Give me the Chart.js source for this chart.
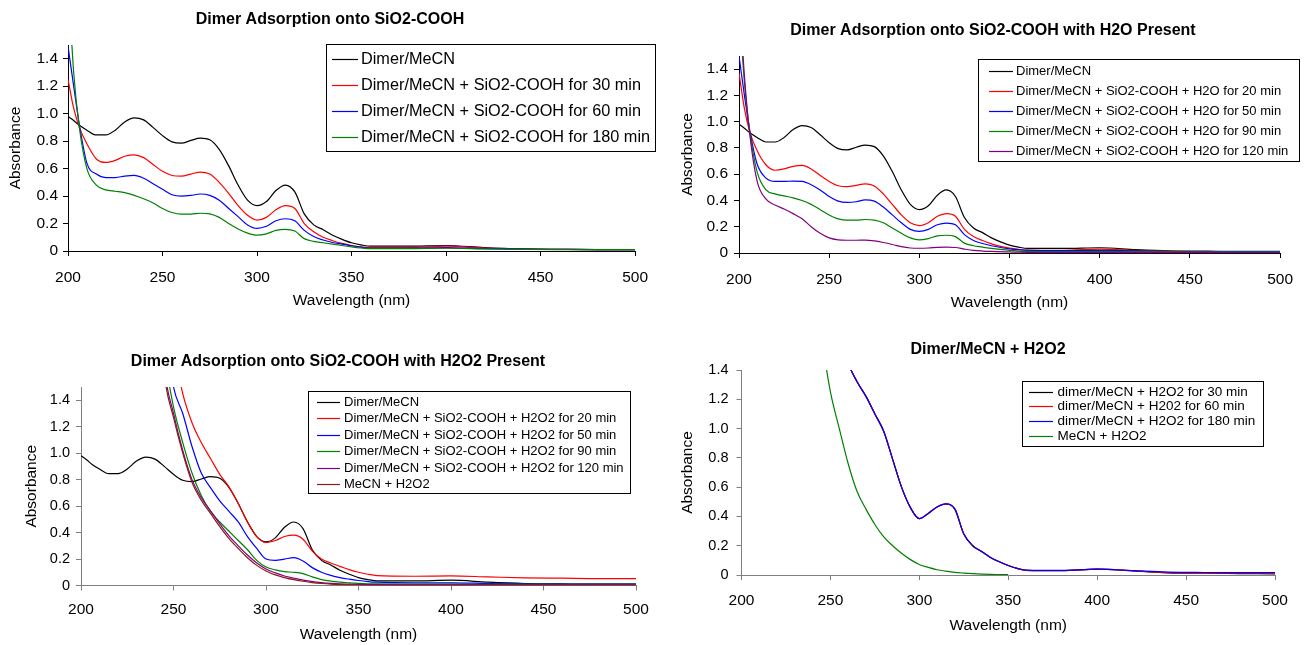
<!DOCTYPE html>
<html>
<head>
<meta charset="utf-8">
<title>Dimer adsorption UV-Vis spectra</title>
<script src="https://cdn.jsdelivr.net/npm/chart.js@4.4.1/dist/chart.umd.min.js"></script>
<style>
  body { margin: 0; background: #fff; }
  #page { position: relative; width: 1305px; height: 645px; overflow: hidden; background: #fff; }
  #page canvas { position: absolute; }
</style>
</head>
<body>
<div id="page"></div>
<script>
// shared wavelength grid (nm)
const wavelength = [200, 203, 206, 210, 215, 220, 225, 230, 235, 240, 245, 250, 255, 260, 265, 270, 275, 280, 285, 290,
  295, 300, 305, 310, 315, 320, 325, 330, 335, 340, 345, 350, 355, 360, 380, 400, 420, 440, 460, 480, 500];

// Dimer/MeCN reference spectrum (panels 1-3)
const dimerMeCN = [0.98, 0.95, 0.915, 0.88, 0.845, 0.845, 0.88, 0.94, 0.97, 0.955, 0.90, 0.84, 0.795, 0.785, 0.805, 0.822, 0.81, 0.74, 0.62, 0.48,
  0.37, 0.33, 0.36, 0.44, 0.48, 0.43, 0.27, 0.19, 0.155, 0.115, 0.085, 0.06, 0.045, 0.035, 0.035, 0.04, 0.025, 0.015, 0.012, 0.01, 0.01];

// panel 1: SiO2-COOH
const cooh30 = [1.25, 1.04, 0.9, 0.78, 0.67, 0.645, 0.66, 0.69, 0.70, 0.68, 0.63, 0.58, 0.55, 0.545, 0.56, 0.575, 0.56, 0.50, 0.42, 0.33,
  0.26, 0.225, 0.245, 0.30, 0.33, 0.31, 0.20, 0.14, 0.10, 0.075, 0.055, 0.04, 0.03, 0.025, 0.025, 0.035, 0.022, 0.015, 0.012, 0.01, 0.01];
const cooh60 = [1.49, 1.2, 0.92, 0.64, 0.56, 0.535, 0.535, 0.545, 0.55, 0.53, 0.49, 0.45, 0.41, 0.40, 0.405, 0.415, 0.405, 0.37, 0.31, 0.25,
  0.19, 0.165, 0.18, 0.22, 0.235, 0.22, 0.15, 0.105, 0.08, 0.062, 0.05, 0.038, 0.028, 0.02, 0.02, 0.025, 0.018, 0.014, 0.012, 0.01, 0.01];
const cooh180 = [2.0, 1.3, 0.9, 0.6, 0.48, 0.445, 0.435, 0.425, 0.405, 0.38, 0.35, 0.31, 0.28, 0.268, 0.268, 0.275, 0.27, 0.245, 0.20, 0.16,
  0.13, 0.115, 0.125, 0.15, 0.158, 0.145, 0.09, 0.07, 0.06, 0.05, 0.04, 0.03, 0.022, 0.017, 0.017, 0.02, 0.015, 0.012, 0.01, 0.01, 0.01];

// panel 2: SiO2-COOH + H2O
const water20 = [1.37, 1.1, 0.92, 0.78, 0.67, 0.63, 0.64, 0.66, 0.667, 0.64, 0.59, 0.545, 0.512, 0.505, 0.515, 0.527, 0.51, 0.45, 0.37, 0.29,
  0.23, 0.208, 0.23, 0.28, 0.30, 0.28, 0.18, 0.125, 0.095, 0.07, 0.05, 0.037, 0.028, 0.022, 0.02, 0.03, 0.02, 0.014, 0.012, 0.01, 0.01];
const water50 = [1.5, 1.2, 0.93, 0.68, 0.57, 0.545, 0.545, 0.548, 0.545, 0.52, 0.48, 0.43, 0.395, 0.385, 0.39, 0.405, 0.395, 0.35, 0.29, 0.23,
  0.18, 0.165, 0.18, 0.215, 0.228, 0.215, 0.14, 0.095, 0.072, 0.055, 0.042, 0.032, 0.025, 0.02, 0.018, 0.02, 0.016, 0.013, 0.012, 0.012, 0.012];
const water90 = [1.9, 1.3, 0.92, 0.62, 0.48, 0.45, 0.435, 0.42, 0.40, 0.37, 0.33, 0.29, 0.26, 0.25, 0.25, 0.255, 0.25, 0.23, 0.19, 0.15,
  0.115, 0.10, 0.11, 0.13, 0.135, 0.125, 0.075, 0.055, 0.045, 0.035, 0.027, 0.02, 0.015, 0.012, 0.01, 0.012, 0.01, 0.01, 0.008, 0.008, 0.008];
const water120 = [2.0, 1.35, 0.9, 0.55, 0.41, 0.365, 0.335, 0.30, 0.26, 0.20, 0.15, 0.115, 0.10, 0.097, 0.097, 0.098, 0.092, 0.08, 0.065, 0.048,
  0.038, 0.036, 0.038, 0.043, 0.045, 0.042, 0.03, 0.02, 0.015, 0.012, 0.01, 0.008, 0.006, 0.005, 0.005, 0.005, 0.005, 0.005, 0.005, 0.005, 0.005];

// panel 3: SiO2-COOH + H2O2 (null = off scale / not read)
const peroxide20 = [null, null, null, null, null, null, null, null, null, null,
  2.2, 1.8, 1.45, 1.23, 1.08, 0.96, 0.84, 0.745, 0.62, 0.48, 0.37, 0.325, 0.34, 0.37, 0.38, 0.35, 0.26, 0.2, 0.17, 0.145,
  0.12, 0.1, 0.085, 0.075, 0.07, 0.072, 0.065, 0.058, 0.055, 0.052, 0.052];
const peroxide50 = [null, null, null, null, null, null, null, null, null, null,
  2.0, 1.5, 1.3, 1.05, 0.85, 0.74, 0.64, 0.56, 0.48, 0.37, 0.28, 0.2, 0.19, 0.2, 0.21, 0.185, 0.135, 0.1, 0.077, 0.06,
  0.048, 0.038, 0.03, 0.025, 0.02, 0.02, 0.015, 0.012, 0.01, 0.01, 0.01];
const peroxide90 = [null, null, null, null, null, null, null, null, null,
  2.3, 1.75, 1.35, 1.08, 0.85, 0.68, 0.56, 0.48, 0.41, 0.34, 0.27, 0.19, 0.14, 0.118, 0.105, 0.1, 0.09, 0.065, 0.045, 0.033, 0.025,
  0.02, 0.016, 0.013, 0.012, 0.01, 0.01, 0.008, 0.008, 0.008, 0.008, 0.008];
const peroxide120 = [null, null, null, null, null, null, null, null, null,
  2.6, 1.65, 1.3, 1.02, 0.8, 0.665, 0.565, 0.465, 0.375, 0.3, 0.23, 0.17, 0.125, 0.095, 0.072, 0.055, 0.04, 0.03, 0.022, 0.016, 0.012,
  0.01, 0.008, 0.007, 0.006, 0.005, 0.005, 0.005, 0.005, 0.005, 0.005, 0.005];
const mecnPeroxide3 = [null, null, null, null, null, null, null, null, null,
  2.5, 1.6, 1.27, 1.0, 0.78, 0.645, 0.545, 0.445, 0.355, 0.28, 0.21, 0.152, 0.11, 0.08, 0.06, 0.044, 0.032, 0.022, 0.015, 0.01, 0.007,
  0.005, 0.004, 0.003, 0.003, 0.003, 0.003, 0.003, 0.003, 0.003, 0.003, 0.003];

// panel 4: Dimer/MeCN + H2O2
const h2o2at30 = [null, null, null, null, null, null, null, null, null, null, null,
  2.0, 1.7, 1.45, 1.32, 1.22, 1.1, 0.98, 0.79, 0.6, 0.46, 0.385, 0.42, 0.465, 0.485, 0.45, 0.28, 0.2, 0.16, 0.12,
  0.09, 0.065, 0.045, 0.032, 0.03, 0.04, 0.028, 0.015, 0.012, 0.01, 0.008];
const h2o2at60 = [null, null, null, null, null, null, null, null, null, null, null,
  2.0, 1.7, 1.45, 1.32, 1.22, 1.1, 0.98, 0.79, 0.6, 0.46, 0.384, 0.42, 0.466, 0.486, 0.45, 0.28, 0.2, 0.16, 0.12,
  0.09, 0.065, 0.045, 0.032, 0.03, 0.04, 0.029, 0.016, 0.013, 0.013, 0.012];
const h2o2at180 = [null, null, null, null, null, null, null, null, null, null, null,
  2.0, 1.7, 1.45, 1.32, 1.22, 1.1, 0.98, 0.79, 0.6, 0.46, 0.385, 0.42, 0.465, 0.486, 0.45, 0.28, 0.2, 0.16, 0.12,
  0.09, 0.065, 0.045, 0.033, 0.031, 0.04, 0.03, 0.02, 0.017, 0.016, 0.017];
const mecnPeroxide4 = [null, null, null, null, null, null, null, null, null, null,
  1.62, 1.25, 1.0, 0.76, 0.57, 0.45, 0.345, 0.26, 0.2, 0.148, 0.105, 0.072, 0.052, 0.036, 0.026, 0.018, 0.013, 0.009, 0.006, 0.004,
  0.003, 0.002, null, null, null, null, null, null, null, null, null];

const labels1 = ['Dimer/MeCN', 'Dimer/MeCN + SiO2-COOH for 30 min', 'Dimer/MeCN + SiO2-COOH for 60 min',
  'Dimer/MeCN + SiO2-COOH for 180 min'];
const labels2 = ['Dimer/MeCN', 'Dimer/MeCN + SiO2-COOH + H2O for 20 min', 'Dimer/MeCN + SiO2-COOH + H2O for 50 min',
  'Dimer/MeCN + SiO2-COOH + H2O for 90 min', 'Dimer/MeCN + SiO2-COOH + H2O for 120 min'];
const labels3 = ['Dimer/MeCN', 'Dimer/MeCN + SiO2-COOH + H2O2 for 20 min', 'Dimer/MeCN + SiO2-COOH + H2O2 for 50 min',
  'Dimer/MeCN + SiO2-COOH + H2O2 for 90 min', 'Dimer/MeCN + SiO2-COOH + H2O2 for 120 min', 'MeCN + H2O2'];
const labels4 = ['dimer/MeCN + H2O2 for 30 min', 'dimer/MeCN + H202 for 60 min', 'dimer/MeCN + H2O2 for 180 min', 'MeCN + H2O2'];

const FONT = '"Liberation Sans", Arial, sans-serif';
Chart.defaults.font.family = FONT;
Chart.defaults.color = '#000';

function points(values) {
  return wavelength.map((w, i) => ({ x: w, y: values[i] }));
}

// legend drawn as a bordered box inside the plot, like the spreadsheet original
const boxLegend = {
  id: 'boxLegend',
  afterDraw(chart, args, o) {
    const ctx = chart.ctx;
    ctx.save();
    ctx.fillStyle = '#fff';
    ctx.fillRect(o.x, o.y, o.w, o.h);
    ctx.strokeStyle = '#000';
    ctx.lineWidth = 1;
    ctx.strokeRect(Math.round(o.x) + 0.5, Math.round(o.y) + 0.5, Math.round(o.w), Math.round(o.h));
    ctx.font = o.size + 'px ' + FONT;
    ctx.textBaseline = 'middle';
    chart.data.datasets.forEach((ds, i) => {
      const y = Math.round(o.rowY + i * o.rowGap) + 0.5;
      ctx.strokeStyle = ds.borderColor;
      ctx.lineWidth = 1.2;
      ctx.beginPath();
      ctx.moveTo(o.lineX, y);
      ctx.lineTo(o.lineX + o.lineW, y);
      ctx.stroke();
      ctx.fillStyle = '#000';
      ctx.fillText(ds.label, o.textX, y);
    });
    ctx.restore();
  }
};

function drawPanel(f, labels, colors, series, lg) {
  const canvas = document.createElement('canvas');
  canvas.width = f.w;
  canvas.height = f.h;
  canvas.style.left = f.x + 'px';
  canvas.style.top = f.y + 'px';
  document.getElementById('page').appendChild(canvas);

  const lh = s => s * 1.2;
  const padLeft = 2 * (f.titleCx - f.x) - (f.plot.r - f.x);
  const padRight = f.x + f.w - f.plot.r;
  const yAxisWidth = f.plot.l - f.x - padLeft;
  const xAxisHeight = f.y + f.h - f.plot.b;

  new Chart(canvas, {
    type: 'line',
    data: {
      datasets: series.map((s, i) => ({
        label: labels[i],
        data: points(s),
        borderColor: colors[i],
        backgroundColor: colors[i],
        borderWidth: 1.2,
        pointRadius: 0,
        cubicInterpolationMode: 'monotone',
        order: -i
      }))
    },
    options: {
      responsive: false,
      animation: false,
      devicePixelRatio: 1,
      layout: { padding: { left: padLeft, right: padRight, top: 0, bottom: 0 } },
      plugins: {
        legend: { display: false },
        tooltip: { enabled: false },
        title: {
          display: true,
          text: f.title,
          color: '#000',
          font: { size: 16, weight: 'bold' },
          padding: { top: f.titleCy - f.y - lh(16) / 2, bottom: f.plot.t - f.titleCy - lh(16) / 2 }
        },
        boxLegend: {
          x: lg.x - f.x, y: lg.y - f.y, w: lg.w, h: lg.h,
          rowY: lg.rowY - f.y, rowGap: lg.rowGap,
          lineX: lg.lineX - f.x, lineW: lg.lineW, textX: lg.textX - f.x, size: lg.size
        }
      },
      scales: {
        x: {
          type: 'linear',
          min: 200,
          max: 500,
          afterFit: s => { s.height = xAxisHeight; },
          ticks: { stepSize: 50, maxRotation: 0, font: { size: 15.5 }, padding: f.xTickPad },
          grid: { drawOnChartArea: false, tickLength: 5, color: f.axisColor },
          border: { color: f.axisColor },
          title: {
            display: true, text: 'Wavelength (nm)', font: { size: 15.5 },
            padding: { top: 0, bottom: f.y + f.h - f.xTitleY - lh(15.5) / 2 }
          }
        },
        y: {
          min: 0,
          max: f.yMax,
          afterFit: s => { s.width = yAxisWidth; },
          ticks: { stepSize: 0.2, includeBounds: false, font: { size: f.yTickSize }, padding: f.yTickPad },
          grid: { drawOnChartArea: false, tickLength: 5, color: f.axisColor },
          border: { color: f.axisColor },
          title: {
            display: true, text: 'Absorbance', font: { size: 15.5 },
            padding: { top: f.yTitleX - f.x - padLeft - lh(15.5) / 2, bottom: 0 }
          }
        }
      }
    },
    plugins: [boxLegend]
  });
}

drawPanel(
  { x: 0, y: 0, w: 660, h: 320, plot: { l: 68, r: 641, t: 45, b: 251 },
    title: 'Dimer Adsorption onto SiO2-COOH', titleCx: 330, titleCy: 20, xTitleY: 301, yTitleX: 15.5,
    yMax: 1.5, axisColor: '#000', xTickPad: 12, yTickPad: 5, yTickSize: 15.5 },
  labels1, ['#000000', '#ff0000', '#0000ff', '#008000'],
  [dimerMeCN, cooh30, cooh60, cooh180],
  { x: 326, y: 44, w: 329, h: 107, rowY: 59, rowGap: 26, lineX: 332, lineW: 26, textX: 361, size: 16.3 }
);

drawPanel(
  { x: 660, y: 0, w: 645, h: 320, plot: { l: 739, r: 1289, t: 56, b: 253 },
    title: 'Dimer Adsorption onto SiO2-COOH with H2O Present', titleCx: 993, titleCy: 30.5, xTitleY: 303, yTitleX: 688,
    yMax: 1.5, axisColor: '#000', xTickPad: 12, yTickPad: 6, yTickSize: 15.5 },
  labels2, ['#000000', '#ff0000', '#0000ff', '#008000', '#800080'],
  [dimerMeCN, water20, water50, water90, water120],
  { x: 978, y: 59, w: 321, h: 102, rowY: 70.5, rowGap: 20, lineX: 989, lineW: 24, textX: 1016, size: 13 }
);

drawPanel(
  { x: 0, y: 320, w: 660, h: 325, plot: { l: 81, r: 636, t: 387, b: 585.5 },
    title: 'Dimer Adsorption onto SiO2-COOH with H2O2 Present', titleCx: 338, titleCy: 361.5, xTitleY: 635, yTitleX: 32,
    yMax: 1.5, axisColor: '#808080', xTickPad: 10, yTickPad: 6, yTickSize: 14.5 },
  labels3, ['#000000', '#ff0000', '#0000ff', '#008000', '#800080', '#8b1a1a'],
  [dimerMeCN, peroxide20, peroxide50, peroxide90, peroxide120, mecnPeroxide3],
  { x: 308, y: 391, w: 322, h: 102, rowY: 401.5, rowGap: 16.5, lineX: 317, lineW: 23, textX: 344, size: 13 }
);

drawPanel(
  { x: 660, y: 320, w: 645, h: 325, plot: { l: 741.5, r: 1275, t: 370, b: 575 },
    title: 'Dimer/MeCN + H2O2', titleCx: 988, titleCy: 349.5, xTitleY: 626, yTitleX: 688,
    yMax: 1.4, axisColor: '#808080', xTickPad: 11, yTickPad: 8, yTickSize: 14.5 },
  labels4, ['#000000', '#ff0000', '#0000ff', '#008000'],
  [h2o2at30, h2o2at60, h2o2at180, mecnPeroxide4],
  { x: 1022, y: 381, w: 241, h: 65, rowY: 391.5, rowGap: 14.8, lineX: 1029, lineW: 24, textX: 1057.5, size: 13.5 }
);
</script>
</body>
</html>
